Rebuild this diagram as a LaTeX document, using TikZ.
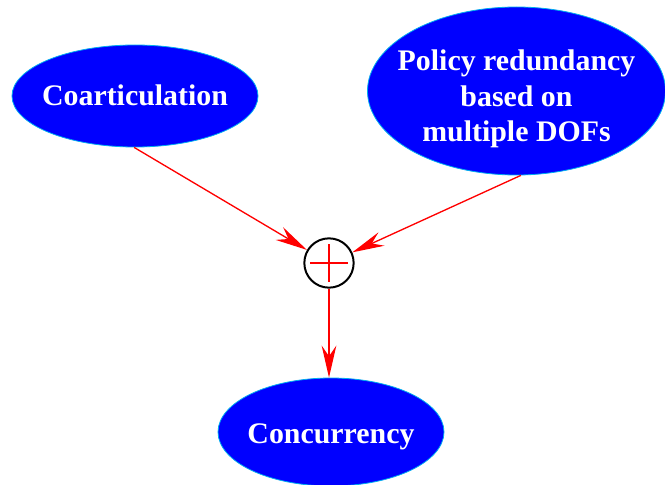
\documentclass[tikz,border=0pt]{standalone}
\usepackage{fontspec}
\setmainfont{Liberation Serif}
\usetikzlibrary{shapes.geometric,arrows.meta}
% text placed with its first baseline #1 below the node centre, taking no room
\newcommand{\blobtext}[2]{\raisebox{-#1}[0pt][0pt]{\makebox[0pt]{\begin{tabular}[t]{@{}c@{}}#2\end{tabular}}}}
\begin{document}
\begin{tikzpicture}[x=0.75pt,y=-0.75pt,
  blob/.style={ellipse,draw=cyan,line width=0.6pt,fill=blue,text=white,font=\fontsize{22.4}{26.3}\selectfont\bfseries,inner sep=0pt},
  link/.style={draw=red,line width=1pt,-{Stealth[length=24pt,width=11pt,inset=8pt]}}]
\useasboundingbox (0,0) rectangle (665,485);
\node[blob,minimum width=184.5pt,minimum height=76.5pt] (coart) at (135,96) {\blobtext{7.3pt}{Coarticulation}};
\node[blob,minimum width=223.5pt,minimum height=126pt] (policy) at (516.5,91) {\blobtext{-15pt}{Policy redundancy\\based on\\multiple DOFs}};
\node[blob,minimum width=169.5pt,minimum height=81pt] (conc) at (331,432) {\blobtext{8.5pt}{Concurrency}};
\node[circle,draw=black,line width=1.5pt,minimum size=37pt,inner sep=0pt] (sum) at (329,263) {};
\draw[red,line width=1.3pt] ([xshift=-14pt]sum.center) -- ([xshift=14pt]sum.center);
\draw[red,line width=1.3pt] ([yshift=-14pt]sum.center) -- ([yshift=14pt]sum.center);
\draw[link] (coart.-91) -- (sum);
\draw[link] (policy.-87) -- (sum);
\draw[link] (sum) -- (sum |- conc.north);
\end{tikzpicture}
\end{document}
